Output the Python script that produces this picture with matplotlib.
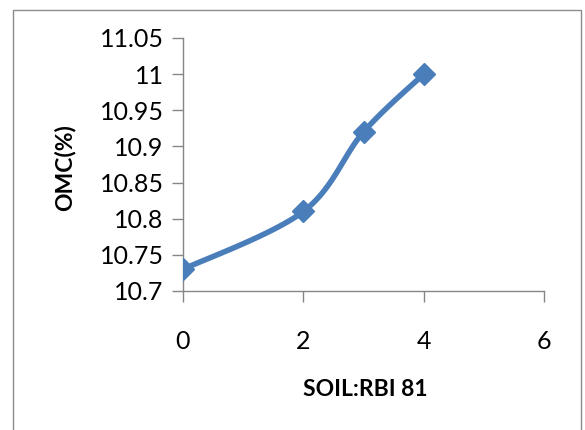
import numpy as np
import matplotlib
matplotlib.use("Agg")
import matplotlib.pyplot as plt
from matplotlib.patches import Rectangle

x_vals = [0, 2, 3, 4]
omc = [10.73, 10.81, 10.92, 11.0]
x_ticks = [0, 2, 4, 6]
y_ticks = [10.7, 10.75, 10.8, 10.85, 10.9, 10.95, 11.0, 11.05]
y_ticklabels = ["10.7", "10.75", "10.8", "10.85", "10.9", "10.95", "11", "11.05"]

plt.rcParams['font.family'] = ['Lato', 'DejaVu Sans']

def smooth(xs, ys, n=40):
    P = np.column_stack([xs, ys]).astype(float)
    P = np.vstack([P[0], P, P[-1]])
    out = []
    for i in range(1, len(P) - 2):
        p0, p1, p2, p3 = P[i - 1], P[i], P[i + 1], P[i + 2]
        c1 = p1 + (p2 - p0) / 6.0
        c2 = p2 - (p3 - p1) / 6.0
        t = np.linspace(0, 1, n)[:, None]
        seg = ((1 - t) ** 3) * p1 + 3 * ((1 - t) ** 2) * t * c1 + 3 * (1 - t) * t ** 2 * c2 + t ** 3 * p2
        out.append(seg)
    out = np.vstack(out)
    return out[:, 0], out[:, 1]

fig = plt.figure(figsize=(5.85, 4.3), dpi=100)
ax = fig.add_axes([183 / 585, 1 - 291 / 430, (544 - 183) / 585, (291 - 38) / 430])

# figure border
fig.patches.append(Rectangle((13 / 585, -0.05), (581 - 13) / 585, 1.05 - 10 / 430,
                             transform=fig.transFigure, fill=False,
                             edgecolor='#8c8c8c', linewidth=1.0))

color = '#4A7EBB'
sx, sy = smooth(x_vals, omc)
ax.plot(sx, sy, color=color, linewidth=4.0, solid_capstyle='round', zorder=3)
ax.plot(x_vals, omc, linestyle='none', marker='D', markersize=11.5, color=color, zorder=4)

ax.set_xlim(0, 6)
ax.set_ylim(10.7, 11.05)
ax.set_xticks(x_ticks)
ax.set_xticklabels([str(v) for v in x_ticks])
ax.set_yticks(y_ticks)
ax.set_yticklabels(y_ticklabels)

for s in ['top', 'right']:
    ax.spines[s].set_visible(False)
for s in ['left', 'bottom']:
    ax.spines[s].set_color('#868686')
    ax.spines[s].set_linewidth(1.0)
ax.tick_params(axis='both', direction='out', length=8, width=1.0, color='#868686',
               labelsize=18, labelcolor='black')
ax.tick_params(axis='x', pad=20)
ax.tick_params(axis='y', pad=6)

fig.text(365 / 585, 1 - 389 / 430, 'SOIL:RBI 81', ha='center', va='center',
         fontsize=16.5, fontweight='bold')
fig.text(65 / 585, 1 - 168 / 430, 'OMC(%)', ha='center', va='center',
         rotation=90, fontsize=16.5, fontweight='bold')

fig.savefig('out.png', dpi=100)
